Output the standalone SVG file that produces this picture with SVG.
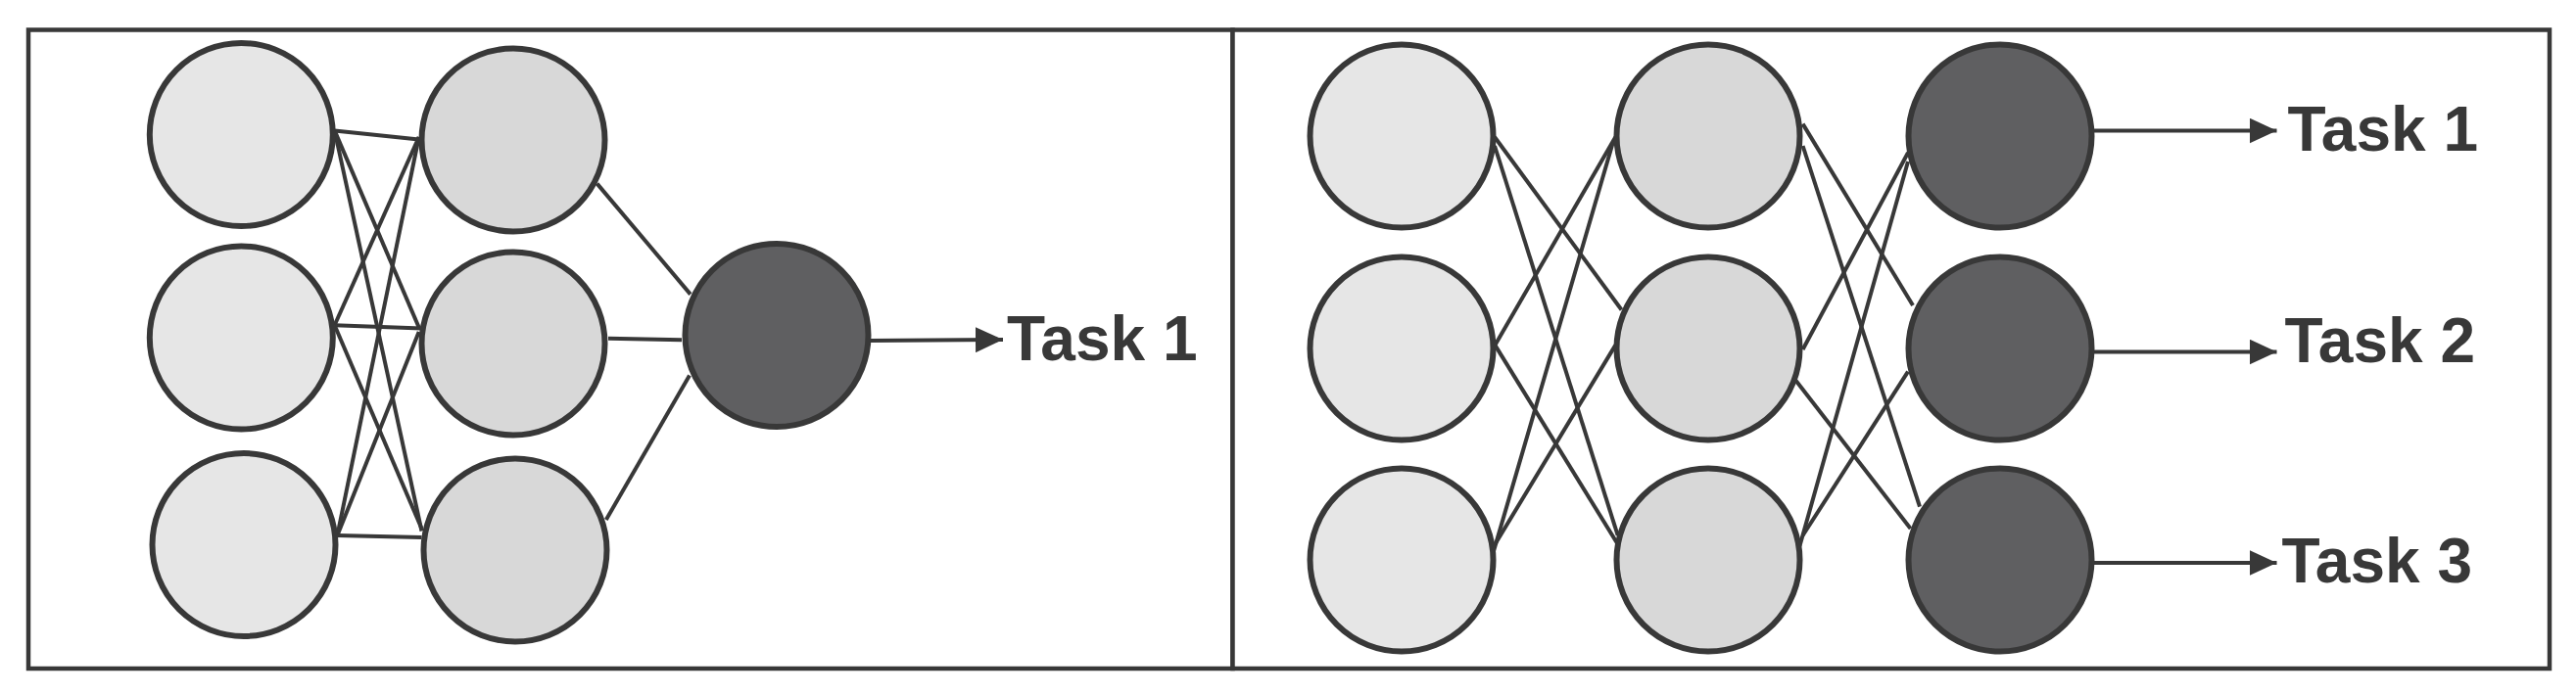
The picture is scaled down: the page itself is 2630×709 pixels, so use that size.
<svg xmlns="http://www.w3.org/2000/svg" width="2630" height="709" viewBox="0 0 2630 709">
<style>
.panel{fill:#ffffff;stroke:#383838;stroke-width:4.5}
.in{fill:#e6e6e6;stroke:#383838;stroke-width:6}
.hid{fill:#d8d8d8;stroke:#383838;stroke-width:6}
.out{fill:#5f5f61;stroke:#383838;stroke-width:6}
.c line{stroke:#383838;stroke-width:4;fill:none}
.arr{stroke:#383838;stroke-width:4;fill:none}
.lbl{font-family:"Liberation Sans",Arial,Helvetica,sans-serif;font-weight:bold;font-size:64px;fill:#383838}
</style>
<defs>
<marker id="ah" markerUnits="userSpaceOnUse" markerWidth="28" markerHeight="26" refX="28" refY="13" orient="auto">
<path d="M0,0 L28,13 L0,26 z" fill="#383838"/>
</marker>
</defs>
<rect width="2630" height="709" fill="#ffffff"/>
<g id="panels">
<rect class="panel" x="29" y="30.5" width="1229.5" height="652.5"/>
<rect class="panel" x="1258.5" y="30.5" width="1344.5" height="652.5"/>
</g>
<g id="connectors" class="c">
<line x1="341.6" y1="133.4" x2="427.7" y2="142.4"/>
<line x1="341.6" y1="133.4" x2="427.7" y2="334.5"/>
<line x1="341.6" y1="133.4" x2="430.5" y2="542.5"/>
<line x1="341.6" y1="332.3" x2="427.7" y2="140"/>
<line x1="341.6" y1="332.3" x2="430.5" y2="335.4"/>
<line x1="341.6" y1="332.3" x2="430.5" y2="540"/>
<line x1="344.4" y1="547" x2="427.7" y2="140"/>
<line x1="344.4" y1="547" x2="427.7" y2="339"/>
<line x1="344.4" y1="547" x2="430.5" y2="549"/>
<line x1="609.6" y1="187.6" x2="704.9" y2="300.6"/>
<line x1="621" y1="345.8" x2="696" y2="347.2"/>
<line x1="618.8" y1="531" x2="704" y2="383.4"/>
<line x1="1526" y1="140" x2="1655.5" y2="316.5"/>
<line x1="1526" y1="149" x2="1651.7" y2="547"/>
<line x1="1526.4" y1="352.6" x2="1649.3" y2="140"/>
<line x1="1526.4" y1="352.6" x2="1651.7" y2="556"/>
<line x1="1525" y1="563" x2="1647" y2="144.7"/>
<line x1="1526.4" y1="556" x2="1649.3" y2="352.6"/>
<line x1="1840.6" y1="126.6" x2="1953" y2="312"/>
<line x1="1840.6" y1="149" x2="1960" y2="517.6"/>
<line x1="1840.6" y1="357" x2="1948" y2="156"/>
<line x1="1833.5" y1="388.8" x2="1950.6" y2="540"/>
<line x1="1837.4" y1="558" x2="1948" y2="165"/>
<line x1="1840.6" y1="547" x2="1948" y2="379.7"/>
<line class="arr" x1="886" y1="348" x2="1024" y2="347" marker-end="url(#ah)"/>
<line class="arr" x1="2135" y1="133.5" x2="2324.5" y2="133.5" marker-end="url(#ah)"/>
<line class="arr" x1="2135" y1="359.5" x2="2324.5" y2="359.5" marker-end="url(#ah)"/>
<line class="arr" x1="2135" y1="575" x2="2324.5" y2="575" marker-end="url(#ah)"/>
</g>
<g id="left-in-1"><circle class="in" cx="246.3" cy="137.5" r="93.5"/></g>
<g id="left-in-2"><circle class="in" cx="246.3" cy="345" r="93.5"/></g>
<g id="left-in-3"><circle class="in" cx="249" cy="556.5" r="93.5"/></g>
<g id="left-hid-1"><circle class="hid" cx="524" cy="143" r="93.5"/></g>
<g id="left-hid-2"><circle class="hid" cx="524" cy="351" r="93.5"/></g>
<g id="left-hid-3"><circle class="hid" cx="526" cy="562" r="93.5"/></g>
<g id="left-out-1"><circle class="out" cx="793" cy="342.5" r="93.5"/></g>
<g id="left-task-1"><text class="lbl" x="1028" y="368">Task 1</text></g>
<g id="right-in-1"><circle class="in" cx="1431" cy="139" r="93.5"/></g>
<g id="right-in-2"><circle class="in" cx="1431" cy="356" r="93.5"/></g>
<g id="right-in-3"><circle class="in" cx="1431" cy="572" r="93.5"/></g>
<g id="right-hid-1"><circle class="hid" cx="1744" cy="139" r="93.5"/></g>
<g id="right-hid-2"><circle class="hid" cx="1744" cy="356" r="93.5"/></g>
<g id="right-hid-3"><circle class="hid" cx="1744" cy="572" r="93.5"/></g>
<g id="right-out-1"><circle class="out" cx="2042" cy="139" r="93.5"/></g>
<g id="right-out-2"><circle class="out" cx="2042" cy="356" r="93.5"/></g>
<g id="right-out-3"><circle class="out" cx="2042" cy="572" r="93.5"/></g>
<g id="right-task-1"><text class="lbl" x="2335.5" y="154">Task 1</text></g>
<g id="right-task-2"><text class="lbl" x="2332.5" y="370">Task 2</text></g>
<g id="right-task-3"><text class="lbl" x="2329.5" y="594.5">Task 3</text></g>
</svg>
